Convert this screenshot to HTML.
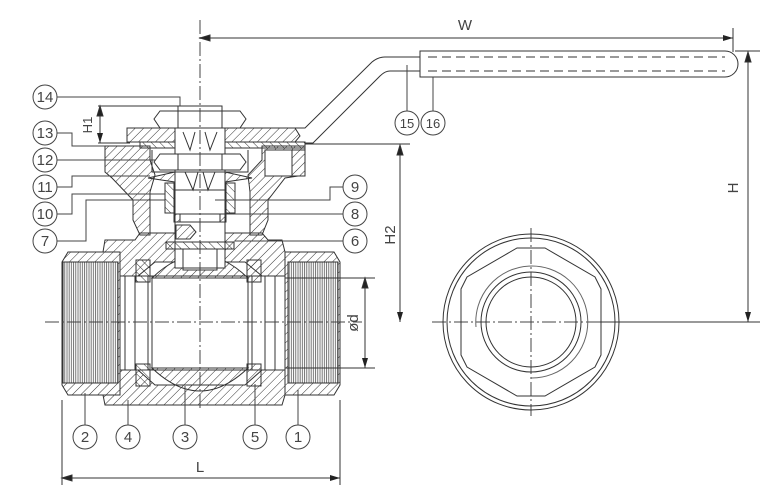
<!DOCTYPE html>
<html><head><style>
html,body{margin:0;padding:0;background:#fff;}
svg{display:block;}
text{font-family:"Liberation Sans",sans-serif;fill:#444;}
</style></head><body>
<svg width="768" height="490" viewBox="0 0 768 490" xmlns="http://www.w3.org/2000/svg">
<defs>
<pattern id="h" width="6" height="6" patternUnits="userSpaceOnUse" patternTransform="rotate(45)">
<line x1="0" y1="0" x2="0" y2="6" stroke="#333" stroke-width="1"/>
</pattern>
<pattern id="h2" width="6" height="6" patternUnits="userSpaceOnUse" patternTransform="rotate(-45)">
<line x1="0" y1="0" x2="0" y2="6" stroke="#333" stroke-width="1"/>
</pattern>
<pattern id="th" width="2.2" height="10" patternUnits="userSpaceOnUse">
<line x1="1" y1="0" x2="1" y2="10" stroke="#555" stroke-width="0.8"/>
</pattern>
<marker id="a" markerWidth="10" markerHeight="6" refX="10" refY="3" orient="auto" markerUnits="userSpaceOnUse">
<path d="M0,0 L10,3 L0,6 z" fill="#222"/>
</marker>
</defs>
<g fill="none" stroke="#333" stroke-width="1">

<path d="M62,262 L68,252 L120,252 L120,262 L120,383 L120,395 L68,395 L62,385 Z" fill="url(#h)"/>
<rect x="63" y="262" width="55" height="121" fill="#fff"/>
<rect x="63" y="262" width="55" height="121" fill="url(#th)"/>
<path d="M285,252 L334,252 L340,262 L340,385 L334,395 L285,395 Z" fill="url(#h)"/>
<rect x="288" y="262" width="50" height="121" fill="#fff"/>
<rect x="288" y="262" width="50" height="121" fill="url(#th)"/>
<path d="M120,252 L103,252 L105,240 L135,240 L140,233 L262,233 L268,240 L282,240 L285,252 L285,276 L262,276 L245,262 L155,262 L138,276 L120,276 Z" fill="url(#h)"/>
<path d="M120,370 L138,370 L155,385 L245,385 L262,370 L285,370 L285,395 L282,405 L105,405 L103,395 L120,395 Z" fill="url(#h)"/>
<line x1="120" y1="276" x2="285" y2="276"/>
<line x1="120" y1="370" x2="285" y2="370"/>
<rect x="125" y="276" width="10" height="94"/>
<rect x="265" y="276" width="10" height="94"/>
<rect x="136" y="260" width="14" height="22" fill="url(#h2)"/>
<rect x="136" y="364" width="14" height="22" fill="url(#h2)"/>
<rect x="247" y="260" width="14" height="22" fill="url(#h)"/>
<rect x="247" y="364" width="14" height="22" fill="url(#h)"/>
<line x1="148" y1="276" x2="148" y2="370"/>
<line x1="152" y1="276" x2="152" y2="370"/>
<line x1="248" y1="276" x2="248" y2="370"/>
<line x1="252" y1="276" x2="252" y2="370"/>
<path d="M152,278 Q200,232 248,278 Z" fill="url(#h)"/>
<path d="M152,368 Q200,414 248,368 Z" fill="url(#h)"/>
<rect x="183" y="250" width="34" height="20" fill="#fff"/>

<path d="M105,146 L150,146 L150,160 L155,175 L150,192 L150,235 L140,235 L133,220 L133,200 L112,178 L105,172 Z" fill="url(#h)"/>
<path d="M262,146 L305,146 L305,175 L285,178 L268,200 L268,220 L262,235 L250,235 L250,192 L248,175 L262,160 Z" fill="url(#h)"/>
<rect x="265" y="150" width="40" height="26" fill="#fff"/>
<rect x="292" y="150" width="13" height="26" fill="url(#h)"/>
<path d="M127,128 L295,128 L300,136 L295,142 L127,142 Z" fill="url(#h)"/>
<rect x="175" y="128" width="50" height="14" fill="#fff"/>
<rect x="140" y="142" width="165" height="6" fill="url(#h2)"/>
<rect x="175" y="142" width="50" height="6" fill="#fff"/>
<path d="M160,111 L240,111 L246,119 L240,128 L160,128 L154,119 Z" fill="#fff"/>
<line x1="178" y1="111" x2="178" y2="128"/><line x1="222" y1="111" x2="222" y2="128"/>
<rect x="178" y="106" width="44" height="5"/>
<rect x="175" y="128" width="50" height="140" fill="#fff"/>
<path d="M183,132 L190,150 L195,132 M205,132 L210,150 L217,132"/>
<path d="M160,154 L240,154 L246,162 L240,170 L160,170 L154,162 Z" fill="#fff"/>
<line x1="178" y1="154" x2="178" y2="170"/><line x1="222" y1="154" x2="222" y2="170"/>
<path d="M152,150 L152,172 L248,172 L248,150"/>
<path d="M148,178 L175,172 L175,182 Z M252,178 L225,172 L225,182 Z" fill="url(#h)"/>
<path d="M185,172 L193,190 L198,172 M203,172 L208,190 L215,172"/>
<rect x="165" y="183" width="9" height="30" fill="url(#h2)"/>
<rect x="226" y="183" width="9" height="30" fill="url(#h2)"/>
<line x1="175" y1="190" x2="225" y2="190"/>
<rect x="174" y="214" width="6" height="8" fill="url(#h)"/>
<rect x="220" y="214" width="6" height="8" fill="url(#h)"/>
<line x1="175" y1="214" x2="225" y2="214"/><line x1="175" y1="222" x2="225" y2="222"/>
<path d="M176,225 L190,225 L196,232 L190,239 L176,239 Z" fill="url(#h)"/>
<rect x="166" y="242" width="68" height="7" fill="url(#h2)"/>
<rect x="183" y="249" width="34" height="19"/>

<g stroke-dasharray="14,3,2,3" stroke="#444">
<line x1="200" y1="20" x2="200" y2="410"/>
<line x1="45" y1="322" x2="362" y2="322"/>
<line x1="432" y1="322" x2="630" y2="322"/>
<line x1="531" y1="228" x2="531" y2="416"/>
</g>

<path d="M420,57 L385,57 Q378,57 372,62 L305,128 L280,128"/>
<path d="M420,71 L390,71 Q385,71 380,76 L313,143 L305,143"/>
<path d="M420,51 L725,51 A13,13 0 0 1 725,77 L420,77 Z"/>
<line x1="428" y1="57" x2="725" y2="57" stroke-dasharray="9,5"/>
<line x1="428" y1="71" x2="725" y2="71" stroke-dasharray="9,5"/>

<circle cx="531" cy="322" r="88"/>
<circle cx="531" cy="322" r="84"/>
<path d="M517,248 L545,248 L595,277 L601,289 L601,355 L595,367 L545,396 L517,396 L467,367 L461,355 L461,289 L467,277 Z"/>
<path d="M476,327 A56,56 0 1 1 531,378" stroke="#666"/>
<circle cx="531" cy="322" r="50"/>
<circle cx="531" cy="322" r="45"/>

<line x1="200" y1="38" x2="733" y2="38" marker-end="url(#a)"/>
<path d="M210,35 L200,38 L210,41 Z" fill="#222"/>
<line x1="733" y1="28" x2="733" y2="52"/>
<line x1="735" y1="51" x2="760" y2="51"/>
<line x1="748" y1="52" x2="748" y2="322" marker-end="url(#a)"/>
<path d="M745,62 L748,52 L751,62 Z" fill="#222"/>
<line x1="600" y1="322" x2="760" y2="322"/>
<line x1="305" y1="144" x2="410" y2="144"/>
<line x1="400" y1="145" x2="400" y2="322" marker-end="url(#a)"/>
<path d="M397,155 L400,145 L403,155 Z" fill="#222"/>
<line x1="285" y1="278" x2="375" y2="278"/>
<line x1="285" y1="368" x2="375" y2="368"/>
<line x1="365" y1="278" x2="365" y2="368" marker-end="url(#a)"/>
<path d="M362,288 L365,278 L368,288 Z" fill="#222"/>
<line x1="62" y1="400" x2="62" y2="485"/>
<line x1="340" y1="400" x2="340" y2="485"/>
<line x1="62" y1="478" x2="340" y2="478" marker-end="url(#a)"/>
<path d="M72,475 L62,478 L72,481 Z" fill="#222"/>
<line x1="98" y1="106" x2="178" y2="106"/>
<line x1="98" y1="143" x2="130" y2="143"/>
<line x1="100" y1="106" x2="100" y2="143" marker-end="url(#a)"/>
<path d="M97,116 L100,106 L103,116 Z" fill="#222"/>

<g stroke="#444">
<circle cx="45" cy="97" r="12"/><path d="M57,97 L180,97 L180,106"/>
<circle cx="45" cy="133" r="12"/><path d="M57,133 L72,133 L72,146 L105,146"/>
<circle cx="45" cy="160" r="12"/><path d="M57,160 L155,160"/>
<circle cx="45" cy="187" r="12"/><path d="M57,187 L72,187 L72,176 L150,176"/>
<circle cx="45" cy="214" r="12"/><path d="M57,214 L72,214 L72,194 L165,194"/>
<circle cx="45" cy="241" r="12"/><path d="M57,241 L86,241 L86,200 L165,200"/>
<circle cx="355" cy="187" r="12"/><path d="M343,187 L330,187 L330,200 L215,200"/>
<circle cx="355" cy="214" r="12"/><path d="M343,214 L226,214"/>
<circle cx="355" cy="241" r="12"/><path d="M343,241 L235,241"/>
<circle cx="407" cy="123" r="12"/><path d="M407,111 L407,65"/>
<circle cx="433" cy="123" r="12"/><path d="M433,111 L433,77"/>
<circle cx="85" cy="437" r="12"/><path d="M85,425 L85,393"/>
<circle cx="128" cy="437" r="12"/><path d="M128,425 L128,400"/>
<circle cx="185" cy="437" r="12"/><path d="M185,425 L185,386"/>
<circle cx="255" cy="437" r="12"/><path d="M255,425 L255,384"/>
<circle cx="298" cy="437" r="12"/><path d="M298,425 L298,390"/>
</g>
</g>
<g font-size="15" text-anchor="middle">
<text x="45" y="102">14</text><text x="45" y="138">13</text><text x="45" y="165">12</text>
<text x="45" y="192">11</text><text x="45" y="219">10</text><text x="45" y="246">7</text>
<text x="355" y="192">9</text><text x="355" y="219">8</text><text x="355" y="246">6</text>
<text x="407" y="128" font-size="13">15</text><text x="433" y="128" font-size="13">16</text>
<text x="85" y="442">2</text><text x="128" y="442">4</text><text x="185" y="442">3</text>
<text x="255" y="442">5</text><text x="298" y="442">1</text>
<text x="465" y="30">W</text>
<text x="200" y="472">L</text>
<text x="738" y="188" transform="rotate(-90 738 188)">H</text>
<text x="395" y="235" transform="rotate(-90 395 235)">H2</text>
<text x="358" y="323" transform="rotate(-90 358 323)">ød</text>
<text x="92" y="125" transform="rotate(-90 92 125)" font-size="13">H1</text>
</g>
</svg>
</body></html>
